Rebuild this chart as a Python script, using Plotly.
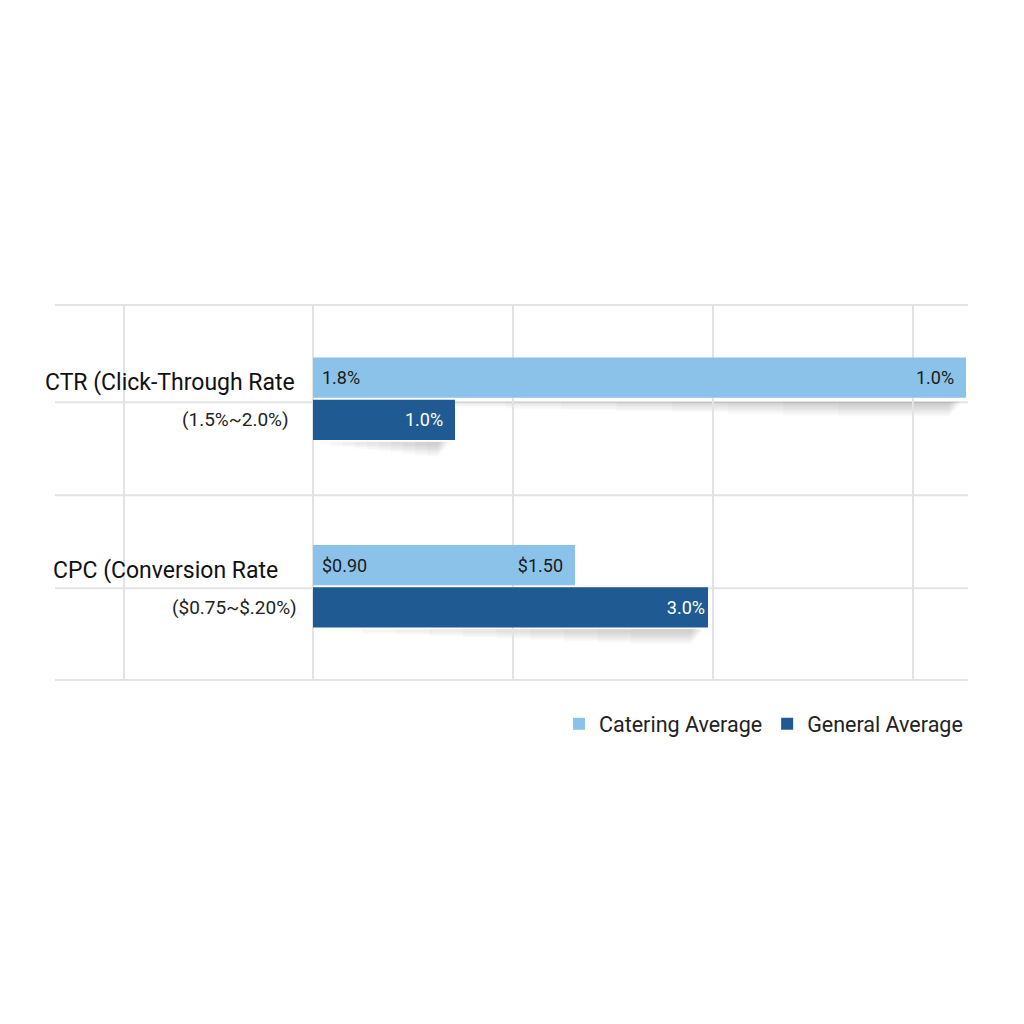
import plotly.graph_objects as go

# metrics shown on the y axis
metrics = ["CTR", "CPC"]
metric_titles = ["CTR (Click-Through Rate", "CPC (Conversion Rate"]
metric_ranges = ["(1.5%~2.0%)", "($0.75~$.20%)"]

# bar lengths (one grid step = 1)
catering_len = [3.265, 1.31]
general_len = [0.71, 1.975]

# labels printed on the bars
catering_start_lbl = ["1.8%", "$0.90"]
catering_end_lbl = ["1.0%", "$1.50"]
general_lbl = ["1.0%", "3.0%"]

grid_x = [-0.945, 0, 1, 2, 3]

LIGHT = "#8bc2e9"
DARK = "#1f5b92"
GRID = "#e3e3e3"
FONT = "Roboto, Arial, sans-serif"
PAD = "\u00a0\u00a0"

fig = go.Figure()

fig.add_trace(go.Bar(
    name="Catering Average",
    y=metrics, x=catering_len, orientation="h",
    marker=dict(color=LIGHT, line=dict(width=0)),
    text=[t + PAD for t in catering_end_lbl],
    textposition="inside", insidetextanchor="end",
    textfont=dict(color="#1a1a1a", size=18, family=FONT),
))
fig.add_trace(go.Bar(
    name="General Average",
    y=metrics, x=general_len, orientation="h",
    marker=dict(color=DARK, line=dict(width=0)),
    text=[general_lbl[0] + PAD, general_lbl[1]],
    textposition="inside", insidetextanchor="end",
    textfont=dict(color="white", size=18, family=FONT),
))

annotations = []
for m, lbl in zip(metrics, catering_start_lbl):
    annotations.append(dict(
        x=0, y=m, xref="x", yref="y", text=lbl, showarrow=False,
        xanchor="left", xshift=7, yshift=21,
        font=dict(size=18, color="#1a1a1a", family=FONT),
    ))

title_shift = [-16, -33]
range_shift = [-22, -14]
for i, m in enumerate(metrics):
    annotations.append(dict(
        x=0, y=m, xref="x", yref="y", text=metric_titles[i], showarrow=False,
        xanchor="right", xshift=title_shift[i], yshift=16,
        font=dict(size=23, color="#111111", family=FONT),
    ))
    annotations.append(dict(
        x=0, y=m, xref="x", yref="y", text=metric_ranges[i], showarrow=False,
        xanchor="right", xshift=range_shift[i], yshift=-21,
        font=dict(size=19, color="#222222", family=FONT),
    ))

# horizontal rules: top, between bars, band divider, between bars, bottom
shapes = []
for yy in [1.0, 0.741, 0.493, 0.245, 0.0]:
    shapes.append(dict(
        type="line", xref="paper", yref="paper", x0=0, x1=1, y0=yy, y1=yy,
        line=dict(color=GRID, width=2), layer="below",
    ))

# soft drop shadows under the bars
for i in range(len(metrics)):
    for length, bottom in [(catering_len[i], -3), (general_len[i], -43)]:
        for k in range(10):
            shapes.append(dict(
                type="rect", xref="x", yref="y", ysizemode="pixel", yanchor=i,
                x0=length * (0.04 + 0.085 * k), x1=length - 0.03 - 0.006 * k,
                y0=bottom, y1=bottom - 3 - 1.3 * k,
                fillcolor="rgba(80,80,80,0.028)", line=dict(width=0),
                layer="below",
            ))

fig.update_layout(
    width=1024, height=1024,
    paper_bgcolor="white", plot_bgcolor="rgba(0,0,0,0)",
    margin=dict(l=47, r=64, t=297, b=352),
    barmode="group", bargap=0.55, bargroupgap=0.05,
    font=dict(family=FONT),
    annotations=annotations,
    shapes=shapes,
    showlegend=True,
    legend=dict(
        orientation="h", x=1.0, xanchor="right", y=-0.117, yanchor="middle",
        font=dict(size=21.5, color="#222222", family=FONT),
        traceorder="normal", itemwidth=30,
    ),
    xaxis=dict(
        range=[-1.29, 3.275], tickmode="array", tickvals=grid_x,
        showticklabels=False, showgrid=True, gridcolor=GRID, gridwidth=2,
        zeroline=False, showline=False, fixedrange=True,
    ),
    yaxis=dict(
        autorange="reversed", showticklabels=False, showgrid=False,
        zeroline=False, showline=False, fixedrange=True,
    ),
)

fig.write_html("out.html")
